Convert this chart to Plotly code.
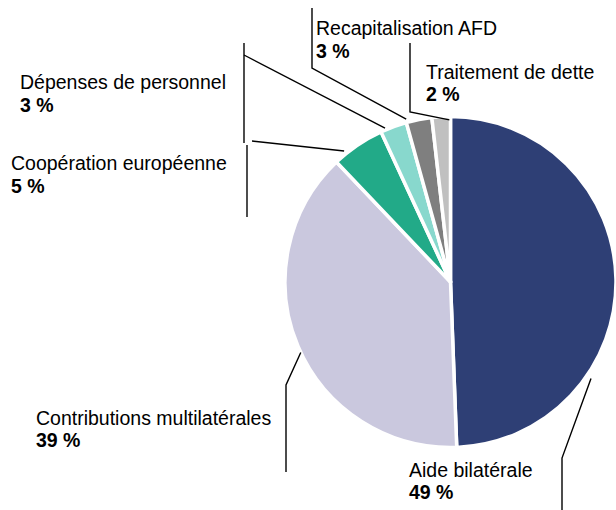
import math
import plotly.graph_objects as go

# ---- data ----
categories = ["Aide bilatérale", "Contributions multilatérales", "Coopération européenne",
              "Dépenses de personnel", "Recapitalisation AFD", "Traitement de dette"]
values = [49.4, 38.5, 5.2, 2.6, 2.5, 1.8]
pct_labels = ["49 %", "39 %", "5 %", "3 %", "3 %", "2 %"]

# ---- style / layout ----
colors = ["#2E3F75", "#CAC8DE", "#22AA88", "#88D8CD", "#7F7F7F", "#C0C0C0"]
W, H = 616, 510
PIE_X0, PIE_X1 = 285, 616
PIE_CY = 282
R = (PIE_X1 - PIE_X0) / 2
CX = (PIE_X0 + PIE_X1) / 2

# label text positions (left x, centre y of name line, centre y of % line) in pixels
label_pos = [(408, 470, 492), (35, 418, 440), (10, 163, 186),
             (19, 82, 105), (315, 28, 51), (425, 72, 94)]
# where along each slice the leader line touches (fraction of slice, radius factor)
anchor_spec = [(0.70, 1.03), (0.483, 1.0), (0.24, 1.02), (0.19, 1.01), (0.03, 1.02), (0.94, 0.98)]
# leader polylines in pixels; "A" = anchor on the slice
leaders = [
    [["A", (562, 458), (562, 512)]],
    [["A", (286, 385), (286, 472)]],
    [["A", (252, 141)], [(247, 145), (247, 217)]],
    [[(244, 43), (244, 143)], [(244, 55), "A"]],
    [[(312, 8), (312, 68), "A"]],
    [[(410, 43), (410, 112), "A"]],
]

FONT = "Liberation Sans, Arial, sans-serif"
FS = 19.5


def px(x, y):
    return x / W, 1 - y / H


fig = go.Figure(go.Pie(
    labels=categories, values=values, sort=False, direction="clockwise", rotation=0,
    marker=dict(colors=colors, line=dict(color="white", width=3.5)),
    textinfo="none", hoverinfo="label",
    domain=dict(x=[PIE_X0 / W, 1.0], y=[1 - (PIE_CY + R) / H, 1 - (PIE_CY - R) / H]),
))

total = sum(values)
cum = 0
anchors = []
for v, (frac, rf) in zip(values, anchor_spec):
    a0 = cum / total * 360
    a1 = (cum + v) / total * 360
    cum += v
    ang = math.radians(a0 + frac * (a1 - a0))
    anchors.append((CX + R * rf * math.sin(ang), PIE_CY - R * rf * math.cos(ang)))

shapes = []
for i, polys in enumerate(leaders):
    for poly in polys:
        pts = [anchors[i] if p == "A" else p for p in poly]
        path = ""
        for j, (x, y) in enumerate(pts):
            xp, yp = px(x, y)
            path += ("M" if j == 0 else " L") + f"{xp:.5f},{yp:.5f}"
        shapes.append(dict(type="path", path=path, xref="paper", yref="paper",
                           line=dict(color="black", width=1.4)))

annotations = []
for name, pct, (lx, y1, y2) in zip(categories, pct_labels, label_pos):
    for txt, yy in ((name, y1), ("<b>" + pct + "</b>", y2)):
        xp, yp = px(lx, yy)
        annotations.append(dict(text=txt, x=xp, y=yp, xref="paper", yref="paper",
                                xanchor="left", yanchor="middle", showarrow=False,
                                borderpad=0, font=dict(family=FONT, size=FS, color="black")))

fig.update_layout(
    width=W, height=H, margin=dict(l=0, r=0, t=0, b=0),
    paper_bgcolor="white", plot_bgcolor="white", showlegend=False,
    shapes=shapes, annotations=annotations,
)

fig.write_html("out.html", config={"displayModeBar": False},
               post_script="document.body.style.margin='0px';document.body.style.overflow='hidden';")
